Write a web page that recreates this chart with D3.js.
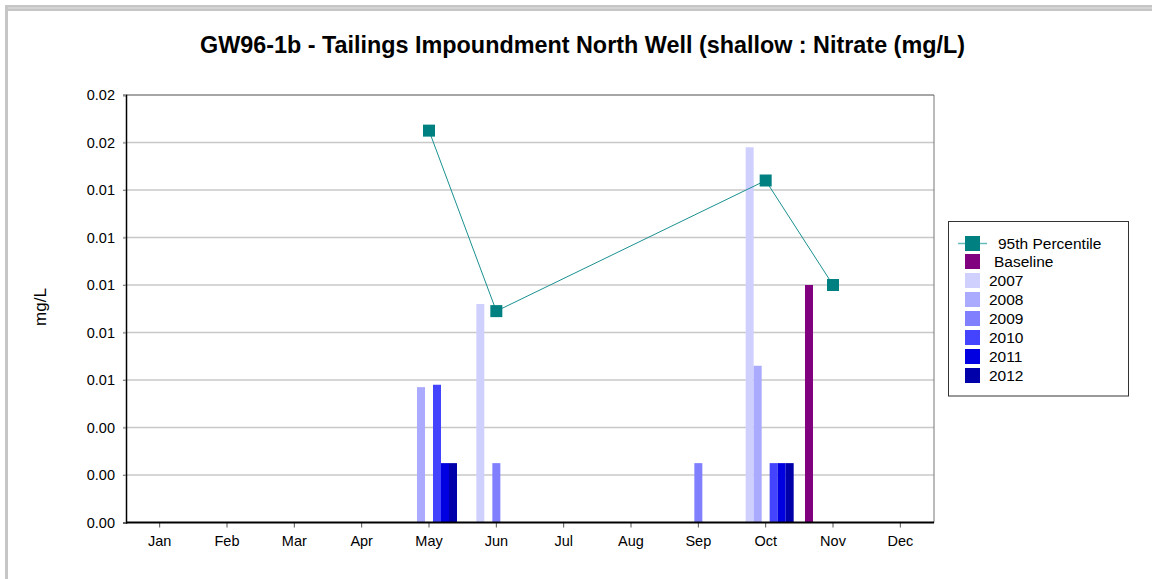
<!DOCTYPE html>
<html><head><meta charset="utf-8">
<script src="https://cdn.jsdelivr.net/npm/d3@7"></script>
<style>
html,body{margin:0;padding:0;background:#fff;}
svg{display:block;font-family:"Liberation Sans",Arial,sans-serif;}
</style></head>
<body><svg id="c" width="1152" height="579"></svg>
<script>
const months = ["Jan","Feb","Mar","Apr","May","Jun","Jul","Aug","Sep","Oct","Nov","Dec"];
const yTicks = [0,0.002,0.004,0.006,0.008,0.010,0.012,0.014,0.016,0.018];
const seriesNames = ["Baseline","2007","2008","2009","2010","2011","2012"];
const seriesColors = ["#800080","#d0d0ff","#aaaaff","#8080ff","#4444ff","#0000e0","#0000aa"];
// monthly values (null = no sample that month)
const baseline = [null,null,null,null,0,0,null,null,null,0,0.0100,null];
const v2007    = [null,null,null,null,0,0.0092,null,null,null,0.0158,0,null];
const v2008    = [null,null,null,null,0.0057,0,null,null,null,0.0066,0,null];
const v2009    = [null,null,null,null,0,0.0025,null,null,0.0025,0,0,null];
const v2010    = [null,null,null,null,0.0058,0,null,null,null,0.0025,0,null];
const v2011    = [null,null,null,null,0.0025,0,null,null,null,0.0025,0,null];
const v2012    = [null,null,null,null,0.0025,0,null,null,null,0.0025,0,null];
const p95      = [null,null,null,null,0.0165,0.0089,null,null,null,0.0144,0.0100,null];
const seriesValues = [baseline,v2007,v2008,v2009,v2010,v2011,v2012];

const svg = d3.select("#c");
// outer frame
svg.append("rect").attr("x",5).attr("y",5).attr("width",1147).attr("height",6).attr("fill","#c6c6c6");
svg.append("rect").attr("x",5).attr("y",5).attr("width",3).attr("height",574).attr("fill","#c6c6c6");
svg.append("rect").attr("x",8).attr("y",7).attr("width",1144).attr("height",2).attr("fill","#d4d4d4");

const L=126,R=934,T=95,B=522.5;
const x = d3.scaleBand().domain(months).range([L,R]).padding(0);
const y = d3.scaleLinear().domain([0,0.018]).range([B,T]);

// title
svg.append("text").attr("x",582.5).attr("y",53).attr("text-anchor","middle")
  .attr("font-size",23).attr("font-weight","bold").attr("fill","#000")
  .attr("textLength",765).attr("lengthAdjust","spacingAndGlyphs")
  .text("GW96-1b - Tailings Impoundment North Well (shallow : Nitrate (mg/L)");

// gridlines
svg.append("g").selectAll("line").data(yTicks.slice(1)).join("line")
  .attr("x1",L-3).attr("x2",R).attr("y1",d=>y(d)).attr("y2",d=>y(d))
  .attr("stroke","#c8c8c8").attr("stroke-width",1.5);
// plot border top/right
svg.append("line").attr("x1",L).attr("x2",R).attr("y1",T).attr("y2",T).attr("stroke","#777").attr("stroke-width",1);
svg.append("line").attr("x1",R).attr("x2",R).attr("y1",T).attr("y2",B).attr("stroke","#777").attr("stroke-width",1);

// y axis
const yAxis = d3.axisLeft(y).tickValues(yTicks).tickFormat(d3.format(".2f")).tickSize(3).tickPadding(8);
const gy = svg.append("g").attr("transform",`translate(${L},0)`).call(yAxis);
gy.select(".domain").attr("stroke","#000").attr("stroke-width",1.5);
gy.selectAll(".tick line").attr("stroke","#888");
gy.selectAll("text").attr("font-size",14.5).attr("fill","#000").attr("font-family","Liberation Sans, Arial, sans-serif");

// x axis
const xAxis = d3.axisBottom(x).tickSize(5).tickPadding(8).tickSizeOuter(0);
const gx = svg.append("g").attr("transform",`translate(0,${B})`).call(xAxis);
gx.select(".domain").remove();
gx.selectAll(".tick line").attr("stroke","#555");
gx.selectAll("text").attr("font-size",14.5).attr("fill","#000").attr("font-family","Liberation Sans, Arial, sans-serif");

// bars: in each month, series with a (non-null) value share the group
const barW = x.bandwidth()*0.832/7;
const bars = [];
months.forEach((m,i)=>{
  const present = seriesNames.filter((s,k)=>seriesValues[k][i]!==null);
  const x1 = d3.scaleBand().domain(present).range([-present.length*barW/2, present.length*barW/2]);
  present.forEach(s=>{
    const k = seriesNames.indexOf(s);
    const v = seriesValues[k][i];
    if (v>0) bars.push({m, s, v, off:x1(s), color:seriesColors[k]});
  });
});
svg.append("g").selectAll("rect").data(bars).join("rect")
  .attr("x",d=>x(d.m)+x.bandwidth()/2+d.off)
  .attr("width",barW)
  .attr("y",d=>y(d.v))
  .attr("height",d=>y(0)-y(d.v))
  .attr("fill",d=>d.color);

// x axis line on top of bars
svg.append("line").attr("x1",L).attr("x2",R).attr("y1",B).attr("y2",B).attr("stroke","#000").attr("stroke-width",2);

// 95th percentile line
const pts = months.map((m,i)=>({m,v:p95[i]})).filter(d=>d.v!==null);
svg.append("path").datum(pts)
  .attr("d",d3.line().x(d=>x(d.m)+x.bandwidth()/2).y(d=>y(d.v)))
  .attr("fill","none").attr("stroke","#1a9090").attr("stroke-width",1);
svg.append("g").selectAll("rect").data(pts).join("rect")
  .attr("x",d=>x(d.m)+x.bandwidth()/2-6).attr("y",d=>y(d.v)-6)
  .attr("width",12).attr("height",12).attr("fill","#008080");

// y axis title
svg.append("text").attr("transform","translate(46,307) rotate(-90)").attr("text-anchor","middle")
  .attr("font-size",17).attr("fill","#000").text("mg/L");

// legend
const lg = svg.append("g");
lg.append("rect").attr("x",948.5).attr("y",221.5).attr("width",180).attr("height",174.5)
  .attr("fill","#fff").attr("stroke","#333").attr("stroke-width",1);
lg.append("line").attr("x1",958).attr("x2",987).attr("y1",243.5).attr("y2",243.5).attr("stroke","#66bbbb").attr("stroke-width",1.5);
lg.append("rect").attr("x",965).attr("y",236).attr("width",15).attr("height",15).attr("fill","#008080");
lg.append("text").attr("x",998).attr("y",249).attr("font-size",15.5).attr("fill","#000").text("95th Percentile");
const legendLabels = seriesNames.map((s,k)=> k===0 ? {t:s,dx:994} : {t:s,dx:989});
lg.selectAll(".sw").data(seriesNames).join("rect").attr("class","sw")
  .attr("x",965).attr("y",(d,k)=>254+k*19).attr("width",15).attr("height",15)
  .attr("fill",(d,k)=>seriesColors[k]);
lg.selectAll(".lt").data(legendLabels).join("text").attr("class","lt")
  .attr("x",d=>d.dx).attr("y",(d,k)=>267+k*19).attr("font-size",15.5).attr("fill","#000").text(d=>d.t);
</script></body></html>
